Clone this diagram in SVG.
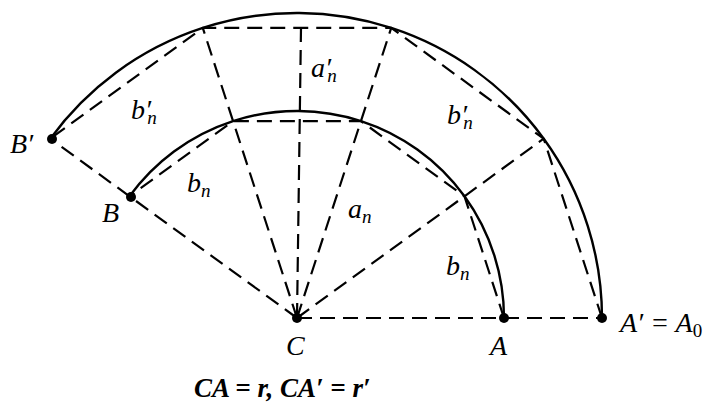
<svg xmlns="http://www.w3.org/2000/svg" width="715" height="408" viewBox="0 0 715 408">
<style>
.arc{fill:none;stroke:#000;stroke-width:2.4}
.dash{fill:none;stroke:#000;stroke-width:2.2;stroke-dasharray:15 8}
.dot{fill:#000}
.t{font-family:'Liberation Serif','DejaVu Serif',serif;font-style:italic;font-size:28px;fill:#000}
.sub{font-size:19px}
.up{font-style:normal}
</style>
<rect width="715" height="408" fill="#fff"/>
<g id="arcs">
<path class="arc" d="M504,318 A207,207 0 0 0 129.5,196.3"/>
<path class="arc" d="M602,318 A305,305 0 0 0 50.3,138.7"/>
</g>
<g id="connectors">
<line class="dash" x1="297" y1="318" x2="602" y2="318"/>
<line class="dash" x1="297" y1="318" x2="543.7" y2="138.7"/>
<line class="dash" x1="297" y1="318" x2="391.2" y2="27.9"/>
<line class="dash" x1="297" y1="318" x2="301" y2="28"/>
<line class="dash" x1="297" y1="318" x2="202.8" y2="27.9"/>
<line class="dash" x1="297" y1="318" x2="50.3" y2="138.7"/>
<polyline class="dash" points="602,318 543.7,138.7 391.2,27.9 202.8,27.9 50.3,138.7"/>
<polyline class="dash" points="504,318 464.5,196.3 361,121.1 233,121.1 129.5,196.3"/>
</g>
<g id="C"><circle class="dot" cx="297" cy="318" r="5"/><text class="t" font-family="Liberation Serif" x="286" y="355">C</text></g>
<g id="A"><circle class="dot" cx="504" cy="318" r="5"/><text class="t" font-family="Liberation Serif" x="490" y="355">A</text></g>
<g id="Aprime"><circle class="dot" cx="602" cy="318" r="5"/><text class="t" font-family="Liberation Serif" x="620" y="332">A′ = A<tspan class="sub up" dy="5">0</tspan></text></g>
<g id="B"><circle class="dot" cx="131" cy="197" r="5"/><text class="t" font-family="Liberation Serif" x="102" y="222">B</text></g>
<g id="Bprime"><circle class="dot" cx="52" cy="139" r="5"/><text class="t" font-family="Liberation Serif" x="10" y="153">B′</text></g>
<g id="labels">
<text class="t" font-family="Liberation Serif" x="311" y="77">a′<tspan class="sub" dx="-4" dy="5">n</tspan></text>
<text class="t" font-family="Liberation Serif" x="131" y="119">b′<tspan class="sub" dx="-4" dy="5">n</tspan></text>
<text class="t" font-family="Liberation Serif" x="447" y="124">b′<tspan class="sub" dx="-4" dy="5">n</tspan></text>
<text class="t" font-family="Liberation Serif" x="187" y="192">b<tspan class="sub" dy="5">n</tspan></text>
<text class="t" font-family="Liberation Serif" x="348" y="218">a<tspan class="sub" dy="5">n</tspan></text>
<text class="t" font-family="Liberation Serif" x="446" y="275">b<tspan class="sub" dy="5">n</tspan></text>
<text class="t" font-family="Liberation Serif" x="194" y="397" style="font-size:27px;font-weight:bold">CA = r,  CA′ = r′</text>
</g>
</svg>
